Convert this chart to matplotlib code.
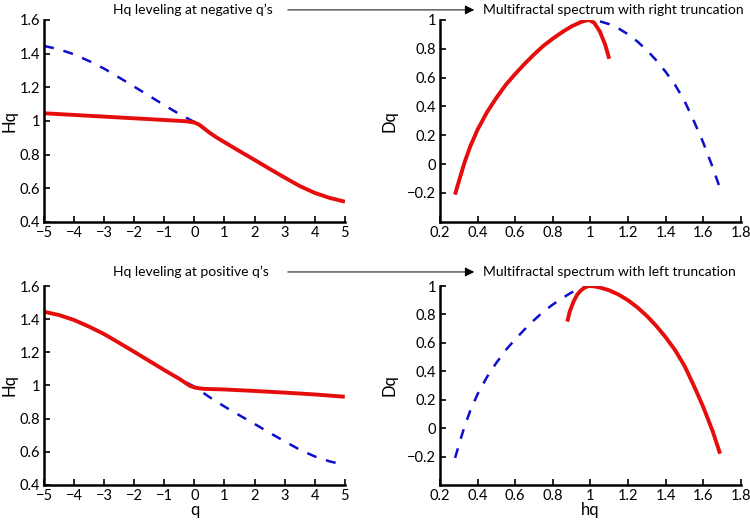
import numpy as np
import matplotlib.pyplot as plt

# Hq(q) curves
q = [-5, -4.5, -4, -3.5, -3, -2.5, -2, -1.5, -1, -0.5, 0, 0.5, 1, 1.5, 2, 2.5, 3, 3.5, 4, 4.5, 5]
hq_orig = [1.445, 1.425, 1.395, 1.355, 1.31, 1.257, 1.203, 1.148, 1.093, 1.04, 0.993,
           0.93, 0.873, 0.82, 0.768, 0.715, 0.663, 0.613, 0.572, 0.542, 0.52]

q_neg = [-5, -4, -3, -2, -1, -0.5, -0.25, 0, 0.15, 0.3, 0.5, 0.75, 1, 1.5, 2, 2.5, 3, 3.5, 4, 4.5, 5]
hq_neg = [1.045, 1.035, 1.025, 1.015, 1.005, 1.0, 0.997, 0.99, 0.978, 0.958, 0.93,
          0.9, 0.873, 0.82, 0.768, 0.715, 0.663, 0.613, 0.572, 0.542, 0.52]

q_pos = [-5, -4.5, -4, -3.5, -3, -2.5, -2, -1.5, -1, -0.5, -0.3, -0.15, 0, 0.15, 0.3, 1, 2, 3, 4, 5]
hq_pos = [1.445, 1.425, 1.395, 1.355, 1.31, 1.257, 1.203, 1.148, 1.093, 1.04, 1.016,
          0.998, 0.988, 0.983, 0.98, 0.976, 0.967, 0.957, 0.946, 0.932]

# multifractal spectra
h_full = [0.28, 0.30, 0.33, 0.36, 0.40, 0.45, 0.50, 0.55, 0.60, 0.65, 0.70, 0.75, 0.80, 0.85, 0.90,
          0.95, 1.00, 1.05, 1.10, 1.15, 1.20, 1.25, 1.30, 1.35, 1.40, 1.45, 1.50, 1.55, 1.60, 1.65, 1.69]
d_full = [-0.21, -0.12, 0.01, 0.12, 0.24, 0.36, 0.46, 0.55, 0.625, 0.695, 0.76, 0.82, 0.87, 0.915, 0.955,
          0.985, 1.0, 0.99, 0.97, 0.94, 0.90, 0.85, 0.79, 0.72, 0.64, 0.55, 0.44, 0.30, 0.15, -0.02, -0.17]

h_right = [0.28, 0.30, 0.33, 0.36, 0.40, 0.45, 0.50, 0.55, 0.60, 0.65, 0.70, 0.75, 0.80, 0.85, 0.90,
           0.95, 0.99, 1.02, 1.05, 1.078, 1.10]
d_right = [-0.21, -0.12, 0.01, 0.12, 0.24, 0.36, 0.46, 0.55, 0.625, 0.695, 0.76, 0.82, 0.87, 0.915, 0.955,
           0.985, 1.0, 0.98, 0.92, 0.83, 0.73]

h_left = [0.877, 0.89, 0.91, 0.93, 0.95, 0.97, 0.99, 1.02, 1.05, 1.10, 1.15, 1.20, 1.25, 1.30, 1.35,
          1.40, 1.45, 1.50, 1.55, 1.60, 1.65, 1.69]
d_left = [0.75, 0.82, 0.89, 0.94, 0.97, 0.99, 1.0, 0.998, 0.99, 0.97, 0.94, 0.90, 0.85, 0.79, 0.72,
          0.64, 0.55, 0.44, 0.30, 0.15, -0.02, -0.18]

plt.rcParams['font.family'] = 'Lato'
plt.rcParams['font.size'] = 10.5

fig = plt.figure(figsize=(7.5, 5.22), dpi=100)
ax1 = fig.add_axes([0.0587, 0.575, 0.401, 0.387])
ax2 = fig.add_axes([0.5867, 0.575, 0.401, 0.387])
ax3 = fig.add_axes([0.0587, 0.071, 0.401, 0.381])
ax4 = fig.add_axes([0.5867, 0.071, 0.401, 0.381])

red = dict(color=(0.9, 0.05, 0.05), lw=2.8, solid_capstyle='butt', solid_joinstyle='round')
blue = dict(color=(0.05, 0.05, 0.8), lw=1.8, dashes=(4, 4))

ax1.plot(q, hq_orig, **blue)
ax1.plot(q_neg, hq_neg, **red)
ax3.plot(q, hq_orig, **blue)
ax3.plot(q_pos, hq_pos, **red)

ax2.plot(h_full, d_full, **blue)
ax2.plot(h_right, d_right, **red)
ax4.plot(h_full[:17], d_full[:17], **blue)
ax4.plot(h_left, d_left, **red)

for ax in (ax1, ax3):
    ax.set_xlim(-5, 5)
    ax.set_ylim(0.4, 1.6)
    ax.set_xticks(range(-5, 6))
    ax.set_xticklabels([str(v).replace('-', '\u2212') for v in range(-5, 6)])
    ax.set_yticks([0.4, 0.6, 0.8, 1, 1.2, 1.4, 1.6])
    ax.set_yticklabels(['0.4', '0.6', '0.8', '1', '1.2', '1.4', '1.6'])
    ax.set_ylabel('Hq', fontsize=12)
    ax.yaxis.set_label_coords(-0.088, 0.5)

for ax in (ax2, ax4):
    ax.set_xlim(0.2, 1.8)
    ax.set_ylim(-0.4, 1)
    ax.set_xticks([0.2, 0.4, 0.6, 0.8, 1, 1.2, 1.4, 1.6, 1.8])
    ax.set_xticklabels(['0.2', '0.4', '0.6', '0.8', '1', '1.2', '1.4', '1.6', '1.8'])
    ax.set_yticks([-0.2, 0, 0.2, 0.4, 0.6, 0.8, 1])
    ax.set_yticklabels(['\u22120.2', '0', '0.2', '0.4', '0.6', '0.8', '1'])
    ax.set_ylabel('Dq', fontsize=12)
    ax.yaxis.set_label_coords(-0.14, 0.5)

for ax in (ax1, ax2, ax3, ax4):
    ax.spines['top'].set_visible(False)
    ax.spines['right'].set_visible(False)
    ax.spines['left'].set_linewidth(1.8)
    ax.spines['bottom'].set_linewidth(1.8)
    ax.tick_params(direction='in', length=4, width=1.2, pad=3)

ax3.set_xlabel('q', fontsize=12, labelpad=-1)
ax4.set_xlabel('hq', fontsize=12, labelpad=-1)

# captions with arrows
fig.text(0.151, 0.981, "Hq leveling at negative q\u2019s", ha='left', va='center', fontsize=10)
fig.text(0.644, 0.981, 'Multifractal spectrum with right truncation', ha='left', va='center', fontsize=10)
plt.annotate('', xy=(0.636, 0.981), xytext=(0.38, 0.981), xycoords='figure fraction',
             arrowprops=dict(arrowstyle='-|>', lw=0.7, color='k', mutation_scale=14))

fig.text(0.151, 0.479, "Hq leveling at positive q\u2019s", ha='left', va='center', fontsize=10)
fig.text(0.644, 0.479, 'Multifractal spectrum with left truncation', ha='left', va='center', fontsize=10)
plt.annotate('', xy=(0.636, 0.479), xytext=(0.38, 0.479), xycoords='figure fraction',
             arrowprops=dict(arrowstyle='-|>', lw=0.7, color='k', mutation_scale=14))

plt.savefig('out.png', dpi=100)
